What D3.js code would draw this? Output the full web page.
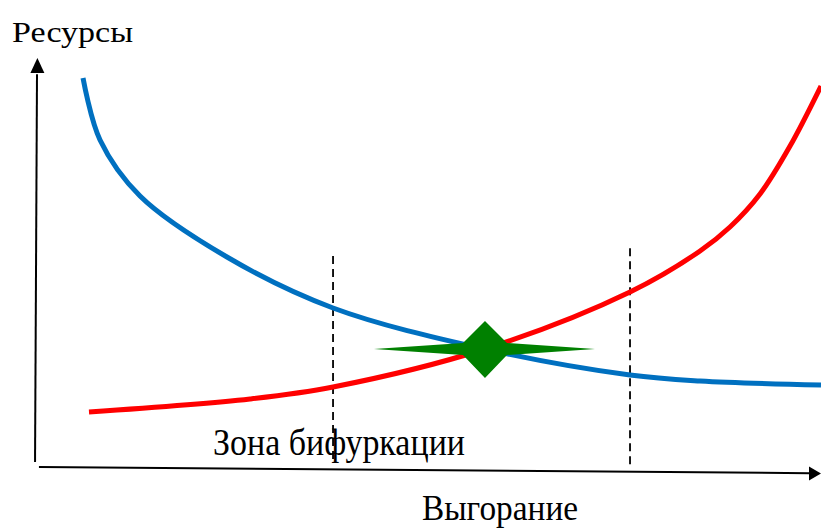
<!DOCTYPE html>
<html>
<head>
<meta charset="utf-8">
<style>
 body { margin: 0; background: #fff; }
 svg { display: block; background: #fff; }
 .lbl { font-family: "Liberation Serif", "DejaVu Serif", serif; fill: #000; }
</style>
</head>
<body>
<svg width="821" height="528"></svg>
<script src="https://cdn.jsdelivr.net/npm/d3@7"></script>
<script>
// chart units: 0..100 on both axes
var blueX = [5.87, 8.04, 13.14, 24.23, 37.76, 57.14, 75.64, 84.57, 100];
var blueY = [95.11, 79.95, 66.26, 51.34, 38.88, 28.85, 22.49, 21.03, 20.05];
var redX = [6.63, 27.17, 37.76, 57.14, 75.64, 84.57, 88.39, 92.22, 96.05, 100];
var redY = [13.45, 16.63, 19.56, 28.85, 42.79, 52.81, 58.68, 66.75, 78.48, 93.15];
var zoneX = [37.76, 75.64];
var zoneTop = [51.6, 53.5];
var zoneBottom = [1.2, 0];
var crossPoint = [57.14, 28.85];
var yTitle = "Ресурсы";
var xTitle = "Выгорание";
var zoneLabel = "Зона бифуркации";

var svg = d3.select("svg");
var x = d3.scaleLinear().domain([0, 100]).range([37, 821]);
var y = d3.scaleLinear().domain([0, 100]).range([467, 58]);

var line = d3.line()
    .x(function(d){ return x(d[0]); })
    .y(function(d){ return y(d[1]); })
    .curve(d3.curveCatmullRom.alpha(0.5));

// axes
svg.append("line")
    .attr("x1", x(-0.25)).attr("y1", y(1.2))
    .attr("x2", x(0)).attr("y2", y(96))
    .attr("stroke", "#000").attr("stroke-width", 2);
svg.append("path")
    .attr("d", "M" + x(0.05) + "," + y(100) + " L" + (x(0.05) - 7) + "," + (y(100) + 15) + " L" + (x(0.05) + 7) + "," + (y(100) + 15) + " Z")
    .attr("fill", "#000");
svg.append("line")
    .attr("x1", x(0.25)).attr("y1", y(0))
    .attr("x2", x(98.6)).attr("y2", y(-1.5))
    .attr("stroke", "#000").attr("stroke-width", 2);
svg.append("path")
    .attr("d", "M" + x(100) + "," + (y(-1.6)) + " L" + (x(100) - 12) + "," + (y(-1.6) - 7) + " L" + (x(100) - 12) + "," + (y(-1.6) + 7) + " Z")
    .attr("fill", "#000");

// bifurcation zone bounds
svg.selectAll(".zone").data(zoneX).enter().append("line")
    .attr("class", "zone")
    .attr("x1", function(d){ return x(d); })
    .attr("x2", function(d){ return x(d); })
    .attr("y1", function(d, i){ return y(zoneTop[i]); })
    .attr("y2", function(d, i){ return y(zoneBottom[i]); })
    .attr("stroke", "#000").attr("stroke-width", 1.8)
    .attr("stroke-dasharray", "8,5");

svg.append("path")
    .datum(d3.zip(redX, redY))
    .attr("d", line)
    .attr("fill", "none").attr("stroke", "#ff0000").attr("stroke-width", 5);
svg.append("path")
    .datum(d3.zip(blueX, blueY))
    .attr("d", line)
    .attr("fill", "none").attr("stroke", "#0070c0").attr("stroke-width", 5);

// star at the crossing
var cx = x(crossPoint[0]), cy = y(crossPoint[1]);
var star = [[0,-28],[22,-6],[110,0],[22,6],[0,29],[-22,6],[-111,0],[-22,-6]];
svg.append("path")
    .attr("d", "M" + star.map(function(p){ return (cx + p[0]) + "," + (cy + p[1]); }).join("L") + "Z")
    .attr("fill", "#008000");

svg.append("text").attr("class", "lbl")
    .attr("x", 12).attr("y", 42)
    .style("font-size", "30px")
    .attr("textLength", 121).attr("lengthAdjust", "spacingAndGlyphs")
    .text(yTitle);
svg.append("text").attr("class", "lbl")
    .attr("x", 213).attr("y", 455)
    .style("font-size", "37px")
    .attr("textLength", 252).attr("lengthAdjust", "spacingAndGlyphs")
    .text(zoneLabel);
svg.append("text").attr("class", "lbl")
    .attr("x", 422).attr("y", 520)
    .style("font-size", "36px")
    .attr("textLength", 156).attr("lengthAdjust", "spacingAndGlyphs")
    .text(xTitle);
</script>
</body>
</html>
